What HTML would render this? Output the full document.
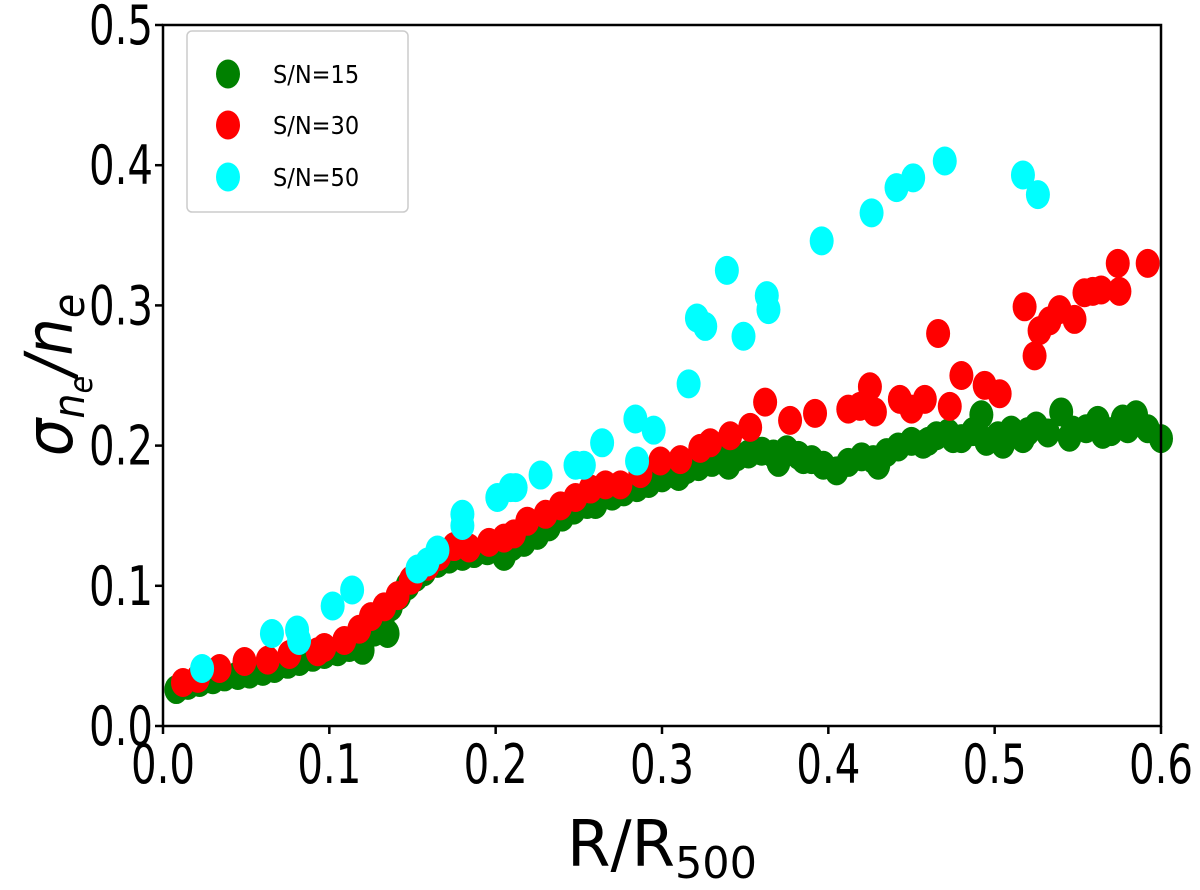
<!DOCTYPE html>
<html><head><meta charset="utf-8"><style>
body{margin:0;background:#fff;}
svg text{font-family:"DejaVu Sans Condensed","DejaVu Sans",sans-serif;}
</style></head><body>
<svg id="chart" width="1200" height="885" viewBox="0 0 1200 885" xmlns="http://www.w3.org/2000/svg">
<g id="marks"></g>
<rect x="163" y="25" width="998" height="701" fill="none" stroke="#000" stroke-width="2.5"/>
<g id="axes"></g>
<text x="662" y="866" font-size="64" text-anchor="middle" textLength="190" lengthAdjust="spacingAndGlyphs">R/R<tspan font-size="44" dy="12">500</tspan></text>
<g transform="translate(72,375) rotate(-90)">
<text text-anchor="middle" font-size="66" font-style="italic">σ<tspan font-size="44" dy="12">n</tspan><tspan font-size="32" dy="8">e</tspan><tspan dy="-20">/n</tspan><tspan font-size="44" dy="12">e</tspan></text>
</g>
<g>
<rect x="187" y="31" width="221" height="181" rx="5" fill="#fff" stroke="#ccc" stroke-width="1.5"/>
<g><line x1="228" y1="60" x2="228" y2="88" stroke="green" stroke-width="2"/><ellipse cx="228" cy="74" rx="12" ry="14.5" fill="green"/><text x="273" y="83" font-size="25">S/N=15</text></g>
<g><line x1="228" y1="111" x2="228" y2="139" stroke="red" stroke-width="2"/><ellipse cx="228" cy="125" rx="12" ry="14.5" fill="red"/><text x="273" y="134" font-size="25">S/N=30</text></g>
<g><line x1="228" y1="163" x2="228" y2="191" stroke="cyan" stroke-width="2"/><ellipse cx="228" cy="177" rx="12" ry="14.5" fill="cyan"/><text x="273" y="186" font-size="25">S/N=50</text></g>
</g>
</svg>
<script>
const xTicks=[0.0,0.1,0.2,0.3,0.4,0.5,0.6];
const yTicks=[0.0,0.1,0.2,0.3,0.4,0.5];
const greenX=[0.008,0.015,0.022,0.030,0.037,0.045,0.052,0.060,0.067,0.075,0.082,0.090,0.097,0.105,0.112,0.120,0.127,0.132,0.137,0.142,0.147,0.152,0.157,0.165,0.172,0.180,0.187,0.195,0.202,0.210,0.217,0.225,0.232,0.240,0.247,0.255,0.262,0.270,0.277,0.285,0.292,0.300,0.307,0.315,0.322,0.330,0.337,0.345,0.352,0.360,0.367,0.375,0.382,0.390,0.397,0.405,0.412,0.420,0.427,0.435,0.442,0.450,0.457,0.465,0.472,0.480,0.487,0.492,0.495,0.502,0.510,0.517,0.525,0.532,0.540,0.547,0.555,0.562,0.570,0.577,0.585,0.592,0.600,0.12,0.135,0.205,0.26,0.31,0.34,0.37,0.385,0.43,0.46,0.475,0.505,0.52,0.545,0.565,0.58];
const greenY=[0.026,0.029,0.031,0.033,0.035,0.036,0.037,0.039,0.041,0.044,0.046,0.049,0.051,0.053,0.056,0.060,0.067,0.075,0.085,0.093,0.100,0.106,0.110,0.116,0.119,0.121,0.123,0.125,0.126,0.128,0.131,0.136,0.142,0.149,0.154,0.158,0.163,0.164,0.167,0.170,0.173,0.177,0.180,0.183,0.185,0.188,0.190,0.192,0.194,0.196,0.194,0.197,0.193,0.190,0.186,0.182,0.188,0.192,0.190,0.195,0.199,0.203,0.201,0.207,0.209,0.205,0.210,0.222,0.203,0.207,0.211,0.205,0.214,0.209,0.224,0.211,0.212,0.218,0.210,0.219,0.222,0.212,0.205,0.054,0.066,0.121,0.158,0.178,0.186,0.188,0.190,0.186,0.203,0.205,0.201,0.210,0.206,0.208,0.212];
const redX=[0.012,0.021,0.034,0.049,0.063,0.076,0.093,0.097,0.109,0.118,0.125,0.133,0.141,0.149,0.159,0.166,0.175,0.184,0.196,0.205,0.211,0.219,0.230,0.239,0.248,0.257,0.266,0.275,0.287,0.299,0.311,0.323,0.329,0.341,0.353,0.362,0.377,0.392,0.412,0.419,0.425,0.428,0.443,0.450,0.458,0.466,0.473,0.480,0.494,0.503,0.518,0.524,0.527,0.533,0.539,0.548,0.554,0.559,0.564,0.574,0.575,0.592];
const redY=[0.031,0.034,0.041,0.046,0.047,0.051,0.053,0.056,0.061,0.069,0.078,0.085,0.093,0.104,0.114,0.121,0.128,0.127,0.131,0.134,0.137,0.146,0.151,0.157,0.163,0.169,0.172,0.172,0.180,0.189,0.190,0.198,0.202,0.207,0.213,0.231,0.218,0.223,0.226,0.228,0.242,0.224,0.233,0.226,0.233,0.280,0.228,0.250,0.243,0.237,0.299,0.264,0.282,0.289,0.297,0.290,0.309,0.310,0.311,0.330,0.310,0.330];
const cyanX=[0.0235,0.0655,0.0806,0.0818,0.102,0.1137,0.153,0.159,0.165,0.180,0.180,0.201,0.209,0.212,0.227,0.248,0.253,0.264,0.284,0.285,0.295,0.316,0.321,0.326,0.339,0.349,0.363,0.364,0.396,0.426,0.441,0.451,0.470,0.517,0.526];
const cyanY=[0.041,0.066,0.0685,0.061,0.0856,0.097,0.112,0.117,0.1255,0.151,0.143,0.163,0.170,0.170,0.179,0.186,0.186,0.202,0.219,0.189,0.211,0.244,0.291,0.285,0.325,0.278,0.307,0.297,0.346,0.366,0.384,0.391,0.403,0.393,0.379];
const NS="http://www.w3.org/2000/svg";
const X0=163,X1=1161,Y0=726,Y1=25;
function sx(v){return X0+(v-0)/(0.6-0)*(X1-X0);}
function sy(v){return Y0-(v-0)/(0.5-0)*(Y0-Y1);}
const marks=document.getElementById('marks');
function series(xs,ys,color,name){
  const g=document.createElementNS(NS,'g');
  
  
  for(let i=0;i<xs.length;i++){
    const e=document.createElementNS(NS,'ellipse');
    e.setAttribute('cx',sx(xs[i]));e.setAttribute('cy',sy(ys[i]));
    e.setAttribute('rx',12);e.setAttribute('ry',14.5);e.setAttribute('fill',color);
    
    
    g.appendChild(e);
  }
  marks.appendChild(g);
}
series(greenX,greenY,'green','series-sn15');
series(redX,redY,'red','series-sn30');
series(cyanX,cyanY,'cyan','series-sn50');
const axes=document.getElementById('axes');
xTicks.forEach(t=>{
  const l=document.createElementNS(NS,'line');
  l.setAttribute('x1',sx(t));l.setAttribute('x2',sx(t));l.setAttribute('y1',Y0);l.setAttribute('y2',Y0+8);
  l.setAttribute('stroke','#000');l.setAttribute('stroke-width','2.5');
  
  
  axes.appendChild(l);
  const tx=document.createElementNS(NS,'text');
  tx.setAttribute('x',sx(t));tx.setAttribute('y',Y0+57);tx.setAttribute('font-size','54');tx.setAttribute('text-anchor','middle');
  tx.setAttribute('textLength','64');tx.setAttribute('lengthAdjust','spacingAndGlyphs');
  tx.textContent=t.toFixed(1);
  
  
  axes.appendChild(tx);
});
yTicks.forEach(t=>{
  const l=document.createElementNS(NS,'line');
  l.setAttribute('x1',X0-8);l.setAttribute('x2',X0);l.setAttribute('y1',sy(t));l.setAttribute('y2',sy(t));
  l.setAttribute('stroke','#000');l.setAttribute('stroke-width','2.5');
  
  
  axes.appendChild(l);
  const tx=document.createElementNS(NS,'text');
  tx.setAttribute('x',X0-10);tx.setAttribute('y',sy(t)+19);tx.setAttribute('font-size','54');tx.setAttribute('text-anchor','end');
  tx.setAttribute('textLength','64');tx.setAttribute('lengthAdjust','spacingAndGlyphs');
  tx.textContent=t.toFixed(1);
  
  
  axes.appendChild(tx);
});
</script>
</body></html>
